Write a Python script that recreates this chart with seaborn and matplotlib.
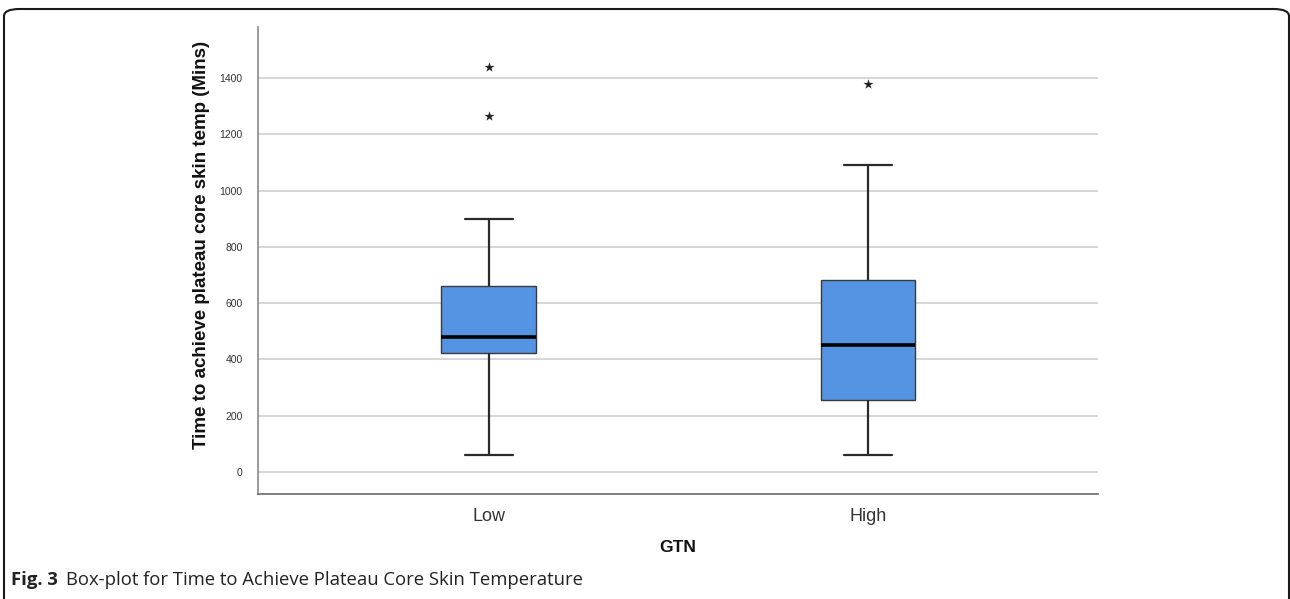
import matplotlib
matplotlib.use("Agg")
import matplotlib.pyplot as plt
import seaborn as sns
import pandas as pd
from matplotlib.patches import FancyBboxPatch

# ---- data ----
groups = ["Low", "High"]
# five-number summaries: min whisker, Q1, median, Q3, max whisker
low_summary = [60, 423, 480, 661, 900]
high_summary = [60, 256, 451, 682, 1091]
# extreme values (stars)
low_outliers = [1265, 1439]
high_outliers = [1379]
y_ticks = [0, 200, 400, 600, 800, 1000, 1200, 1400]

sns.set_theme(style="white")
plt.rcParams["font.family"] = ["Liberation Sans", "DejaVu Sans"]

box_df = pd.DataFrame({
    "GTN": ["Low"] * len(low_summary) + ["High"] * len(high_summary),
    "time": low_summary + high_summary,
})
out_df = pd.DataFrame({
    "GTN": ["Low"] * len(low_outliers) + ["High"] * len(high_outliers),
    "time": low_outliers + high_outliers,
})

W, H = 1290, 599
L, R, B, T = 258, 1098, 494, 27
fig = plt.figure(figsize=(12.9, 5.99), dpi=100)
ax = fig.add_axes([L / W, 1 - B / H, (R - L) / W, (B - T) / H])

ax.set_axisbelow(True)
ax.yaxis.grid(True, color="#d6d6d6", linewidth=1.4)
ax.xaxis.grid(False)

sns.boxplot(
    data=box_df, x="GTN", y="time", order=groups, ax=ax,
    whis=(0, 100), width=0.25, fliersize=0,
    color="#5594E2", saturation=1,
    boxprops=dict(facecolor="#5594E2", edgecolor="#3a3a3a", linewidth=1.0),
    whiskerprops=dict(color="#2a2a2a", linewidth=1.6),
    capprops=dict(color="#2a2a2a", linewidth=1.6),
    medianprops=dict(color="black", linewidth=2.6),
)
sns.stripplot(
    data=out_df, x="GTN", y="time", order=groups, ax=ax,
    jitter=False, marker="*", color="#222222", size=7.5, linewidth=0,
)

ax.set_ylim(-78, 1581)
ax.set_xlim(-0.609, 1.607)
ax.set_yticks(y_ticks)
ax.set_yticklabels([str(t) for t in y_ticks], fontsize=7.5, color="#333333")
ax.tick_params(axis="x", labelsize=13, colors="#333333", length=0, pad=10)
ax.tick_params(axis="y", length=0, pad=11)

for s in ["top", "right"]:
    ax.spines[s].set_visible(False)
ax.spines["left"].set_color("#8a8a8a")
ax.spines["left"].set_linewidth(1.2)
ax.spines["bottom"].set_color("#6a6a6a")
ax.spines["bottom"].set_linewidth(1.2)

ax.set_xlabel("GTN", fontsize=12.5, fontweight="bold", color="#111111")
ax.xaxis.set_label_coords(0.5, (B - 548) / (B - T), transform=ax.transAxes)
ax.xaxis.label.set_verticalalignment("center")
ax.set_ylabel("Time to achieve plateau core skin temp (Mins)", fontsize=13.5,
              fontweight="bold", color="#111111")
ax.yaxis.set_label_coords((202 - L) / (R - L), (B - 245) / (B - T), transform=ax.transAxes)
ax.yaxis.label.set_verticalalignment("center")

# outer rounded border
border = FancyBboxPatch((4 / W, -20 / H), (1289 - 4) / W, (H - 9 + 20) / H,
                        boxstyle="round,pad=0,rounding_size=0.012",
                        transform=fig.transFigure, fill=False,
                        edgecolor="#1a1a1a", linewidth=1.5, clip_on=False)
fig.patches.append(border)

# caption
cap_font = ["Open Sans", "DejaVu Sans"]
fig.text(11 / W, 1 - 580 / H, "Fig. 3", fontsize=13.3, fontweight="bold",
         family=cap_font, va="center", ha="left", color="#222222")
fig.text(66 / W, 1 - 580 / H, "Box-plot for Time to Achieve Plateau Core Skin Temperature",
         fontsize=13.3, family=cap_font, va="center", ha="left", color="#222222")

fig.savefig("out.png", dpi=100)
